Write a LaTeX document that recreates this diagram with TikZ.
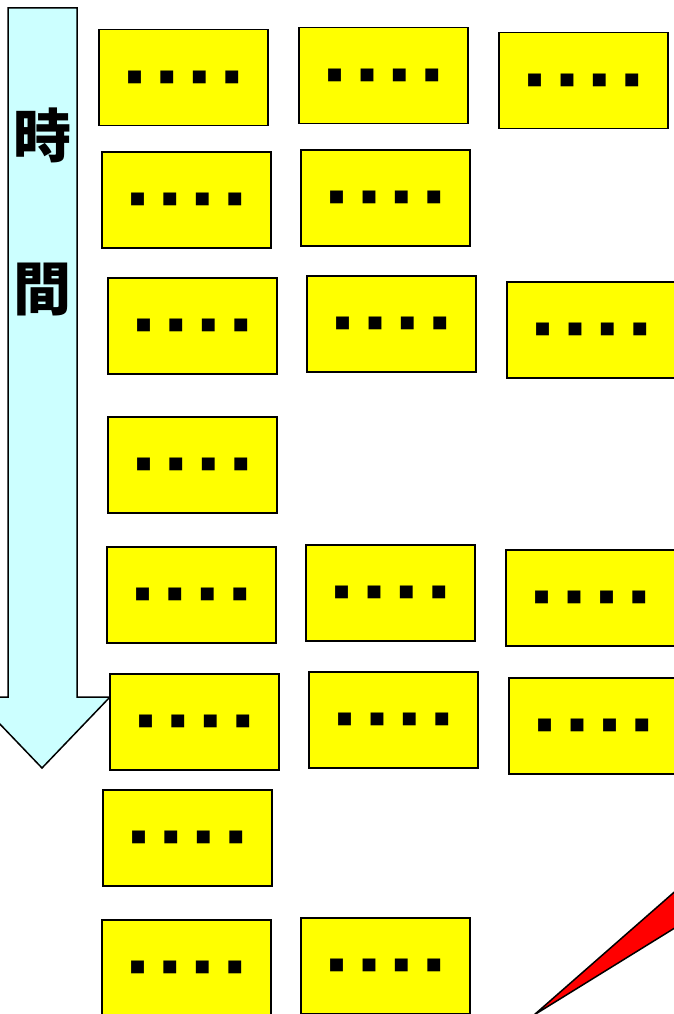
\documentclass[tikz,border=0pt]{standalone}
\usepackage{fontspec}
\newfontfamily\jpfont{Noto Sans CJK JP}
\usepackage{tikz}
\usetikzlibrary{positioning}
\definecolor{cardyellow}{RGB}{255,255,0}
\definecolor{timecyan}{RGB}{204,255,255}
\newcommand{\dotrow}{\raisebox{-1.5pt}{■\hspace{16.5pt}■\hspace{16.5pt}■\hspace{16.5pt}■}}

\begin{document}
\begin{tikzpicture}[x=1pt, y=-1pt]
% Define styles
\tikzstyle{card} = [rectangle, draw=black, line width=1.5pt, fill=cardyellow, minimum width=169pt, minimum height=96pt, inner sep=0pt, anchor=north west, font=\jpfont\fontsize{16}{16}\selectfont]
\tikzstyle{timeword} = [font=\jpfont\bfseries\fontsize{58}{58}\selectfont, inner sep=0pt]

\useasboundingbox (0,0) rectangle (674,1014);
\clip (0,0) rectangle (674,1014);

% Time arrow
\draw[fill=timecyan, line width=1.5pt] (8,8) -- (77,8) -- (77,697) -- (110,697) -- (42,768) -- (-26,697) -- (8,697) -- cycle;
\node (toki) [timeword] at (42,135) {時};
\node (aida) [timeword] at (42,290) {間};

% Nodes
\node (c11) [card] at (98,29) {\dotrow};
\node (c12) [card] at (298,27) {\dotrow};
\node (c13) [card] at (498,32) {\dotrow};
\node (c21) [card] at (101,151) {\dotrow};
\node (c22) [card] at (300,149) {\dotrow};
\node (c31) [card] at (107,277) {\dotrow};
\node (c32) [card] at (306,275) {\dotrow};
\node (c33) [card] at (506,281) {\dotrow};
\node (c41) [card] at (107,416) {\dotrow};
\node (c51) [card] at (106,546) {\dotrow};
\node (c52) [card] at (305,544) {\dotrow};
\node (c53) [card] at (505,549) {\dotrow};
\node (c61) [card] at (109,673) {\dotrow};
\node (c62) [card] at (308,671) {\dotrow};
\node (c63) [card] at (508,677) {\dotrow};
\node (c71) [card] at (102,789) {\dotrow};
\node (c81) [card] at (101,919) {\dotrow};
\node (c82) [card] at (300,917) {\dotrow};

% Red wedge
\draw[fill=red, line width=1.5pt] (534,1015) -- (720,852) -- (720,900) -- cycle;
\end{tikzpicture}
\end{document}
